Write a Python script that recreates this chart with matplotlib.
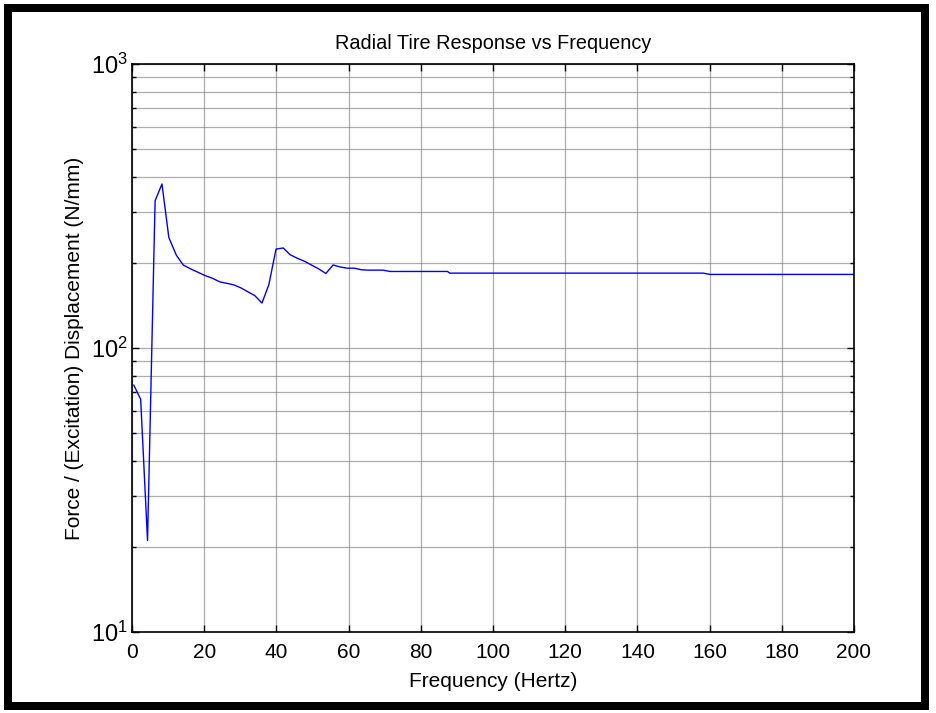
import matplotlib
matplotlib.use("Agg")
import matplotlib.pyplot as plt
from matplotlib.patches import Rectangle
from matplotlib.ticker import LogLocator

plt.rcParams['font.family'] = ['Liberation Sans', 'DejaVu Sans']
plt.rcParams['mathtext.fontset'] = 'custom'
plt.rcParams['mathtext.rm'] = 'Liberation Sans'

freq = [0.5, 2.4, 4.3, 6.4, 8.3, 10.2, 12.3, 14.2, 16.2, 18.2, 20.2, 22.3, 24.3,
        26.2, 28.1, 30.1, 32.0, 34.0, 36.0, 37.9, 39.9, 41.9, 43.8, 45.8, 47.8,
        49.7, 51.7, 53.7, 55.7, 57.6, 59.6, 61.6, 63.6, 65.5, 67.5, 69.5, 71.5,
        87.4, 88.0, 158.2, 160.1, 200.0]
resp = [74, 66, 21, 330, 378, 245, 212, 196, 190, 185, 180, 176, 171,
        169, 167, 163, 158, 153, 144, 167, 223, 225, 213, 207, 202,
        196, 190, 183, 196, 193, 191, 191, 188.5, 188, 188, 188, 186,
        186, 183.5, 183.5, 181.6, 181.6]

title = "Radial Tire Response vs Frequency"
xlabel = "Frequency (Hertz)"
ylabel = "Force / (Excitation) Displacement (N/mm)"
xticks = [0, 20, 40, 60, 80, 100, 120, 140, 160, 180, 200]
yticks = [10, 100, 1000]
ytick_labels = [r"$\mathregular{10^{1}}$", r"$\mathregular{10^{2}}$", r"$\mathregular{10^{3}}$"]

fig = plt.figure(figsize=(9.37, 7.13), dpi=100)
ax = fig.add_axes([132/937, 81/713, 722/937, 568/713])
ax.plot(freq, resp, color='#0000ff', lw=1.0)
ax.set_yscale('log')
ax.set_xlim(0, 200)
ax.set_ylim(10, 1000)
ax.set_xticks(xticks)
ax.set_yticks(yticks)
ax.set_yticklabels(ytick_labels)
ax.yaxis.set_minor_locator(LogLocator(base=10, subs=range(2, 10)))
ax.grid(True, which='major', axis='both', color='#777777', lw=0.9, ls='-', alpha=0.6)
ax.grid(True, which='minor', axis='y', color='#777777', lw=0.9, ls='-', alpha=0.6)
ax.tick_params(which='both', direction='in', top=True, right=True, labelsize=15, width=1.0, color='black')
ax.tick_params(which='major', length=5)
ax.tick_params(which='minor', length=3)
ax.tick_params(axis='x', pad=8)
ax.tick_params(axis='y', pad=3, labelsize=17)
for s in ax.spines.values():
    s.set_linewidth(1.2)
ax.set_title(title, fontsize=14.3, pad=11)
ax.set_xlabel(xlabel, fontsize=15, labelpad=7)
ax.set_ylabel(ylabel, fontsize=15, labelpad=5)

fig.patches.append(Rectangle((8, 7), 917, 698, transform=None, fill=False,
                             edgecolor='black', linewidth=8*0.72))
fig.savefig('out.png', dpi=100)
